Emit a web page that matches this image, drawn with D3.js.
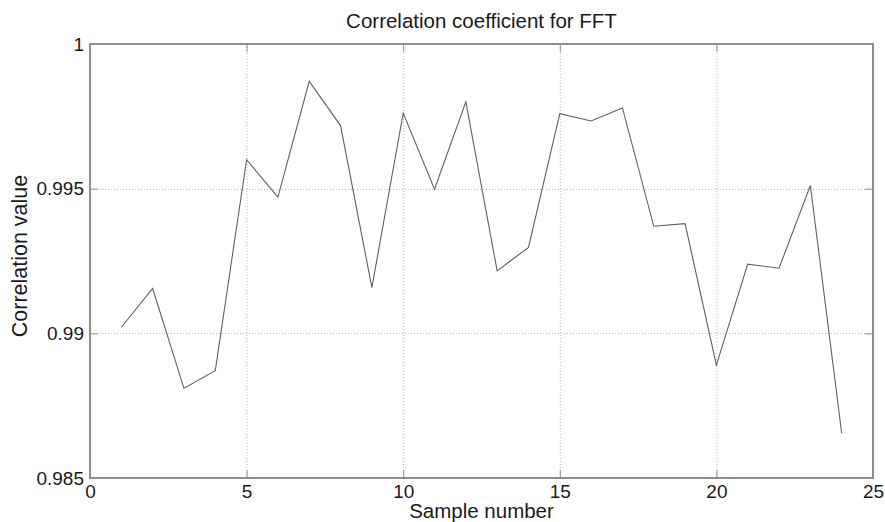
<!DOCTYPE html>
<html>
<head>
<meta charset="utf-8">
<script src="https://cdn.jsdelivr.net/npm/d3@7"></script>
<style>
  html, body { margin: 0; padding: 0; background: #fff; }
  svg { display: block; }
  text { font-family: "Liberation Sans", Arial, sans-serif; fill: #1a1a1a; }
</style>
</head>
<body>
<svg id="chart" width="885" height="522"></svg>
<script>
// Sample indices and correlation values
const samples = [1,2,3,4,5,6,7,8,9,10,11,12,13,14,15,16,17,18,19,20,21,22,23,24];
const correlation = [
  0.99021, 0.99155, 0.98810, 0.98871, 0.99600, 0.99471, 0.99871, 0.99718,
  0.99158, 0.99761, 0.99498, 0.99800, 0.99216, 0.99297, 0.99759, 0.99734,
  0.99779, 0.99370, 0.99379, 0.98890, 0.99239, 0.99225, 0.99511, 0.98655
];
const xTicks = [0, 5, 10, 15, 20, 25];
const yTicks = [0.985, 0.99, 0.995, 1];
const titleText = "Correlation coefficient for FFT";
const xLabel = "Sample number";
const yLabel = "Correlation value";

const svg = d3.select("#chart");
const plotLeft = 90, plotRight = 873, plotTop = 44, plotBottom = 478;

const x = d3.scaleLinear().domain([0, 25]).range([plotLeft, plotRight]);
const y = d3.scaleLinear().domain([0.985, 1]).range([plotBottom, plotTop]);

const axisColor = "#8f8f8f";
const tickLen = 8;

// dotted grid at interior ticks
const grid = svg.append("g");
grid.selectAll("line.gx")
  .data(xTicks.filter(t => t > 0 && t < 25))
  .join("line")
  .attr("x1", d => x(d) + 0.5).attr("x2", d => x(d) + 0.5)
  .attr("y1", plotTop).attr("y2", plotBottom)
  .attr("stroke", "#b5b5b5").attr("stroke-width", 1)
  .attr("stroke-dasharray", "1,2");
grid.selectAll("line.gy")
  .data(yTicks.filter(t => t > 0.985 && t < 1))
  .join("line")
  .attr("x1", plotLeft).attr("x2", plotRight)
  .attr("y1", d => Math.round(y(d)) + 0.5).attr("y2", d => Math.round(y(d)) + 0.5)
  .attr("stroke", "#b5b5b5").attr("stroke-width", 1)
  .attr("stroke-dasharray", "1,2");

// data line
const line = d3.line()
  .x((d, i) => x(samples[i]))
  .y(d => y(d));
svg.append("path")
  .datum(correlation)
  .attr("d", line)
  .attr("fill", "none")
  .attr("stroke", "#606060")
  .attr("stroke-width", 1.1);

// bottom axis with inward ticks
const xAxis = d3.axisBottom(x).tickValues(xTicks).tickFormat(d3.format("d"))
  .tickSizeInner(-tickLen).tickSizeOuter(0).tickPadding(7);
const gx = svg.append("g").attr("transform", `translate(0,${plotBottom})`).call(xAxis);
gx.select(".domain").remove();
gx.selectAll(".tick line").attr("stroke", axisColor);
gx.selectAll(".tick text").attr("font-size", 19).attr("fill", "#1a1a1a")
  .attr("font-family", "Liberation Sans, Arial, sans-serif");

// top axis ticks (no labels)
const gxt = svg.append("g").attr("transform", `translate(0,${plotTop})`)
  .call(d3.axisTop(x).tickValues(xTicks).tickSizeInner(-tickLen).tickSizeOuter(0).tickFormat(""));
gxt.select(".domain").remove();
gxt.selectAll(".tick line").attr("stroke", axisColor);

// left axis with inward ticks
const yAxis = d3.axisLeft(y).tickValues(yTicks).tickFormat(d => d3.format("")(+d.toFixed(3)))
  .tickSizeInner(-tickLen).tickSizeOuter(0).tickPadding(6);
const gy = svg.append("g").attr("transform", `translate(${plotLeft},0)`).call(yAxis);
gy.select(".domain").remove();
gy.selectAll(".tick line").attr("stroke", axisColor);
gy.selectAll(".tick text").attr("font-size", 19).attr("fill", "#1a1a1a")
  .attr("font-family", "Liberation Sans, Arial, sans-serif");

// right axis ticks (no labels)
const gyr = svg.append("g").attr("transform", `translate(${plotRight},0)`)
  .call(d3.axisRight(y).tickValues(yTicks).tickSizeInner(-tickLen).tickSizeOuter(0).tickFormat(""));
gyr.select(".domain").remove();
gyr.selectAll(".tick line").attr("stroke", axisColor);

// plot box
svg.append("rect")
  .attr("x", plotLeft).attr("y", plotTop)
  .attr("width", plotRight - plotLeft).attr("height", plotBottom - plotTop)
  .attr("fill", "none").attr("stroke", axisColor).attr("stroke-width", 2);

// title and axis labels
svg.append("text")
  .attr("x", (plotLeft + plotRight) / 2).attr("y", 28)
  .attr("text-anchor", "middle").attr("font-size", 20.5)
  .text(titleText);
svg.append("text")
  .attr("x", (plotLeft + plotRight) / 2).attr("y", 518)
  .attr("text-anchor", "middle").attr("font-size", 20.5)
  .text(xLabel);
svg.append("text")
  .attr("transform", `translate(27,${(plotTop + plotBottom) / 2 - 5}) rotate(-90)`)
  .attr("text-anchor", "middle").attr("font-size", 21.5)
  .text(yLabel);
</script>
</body>
</html>
